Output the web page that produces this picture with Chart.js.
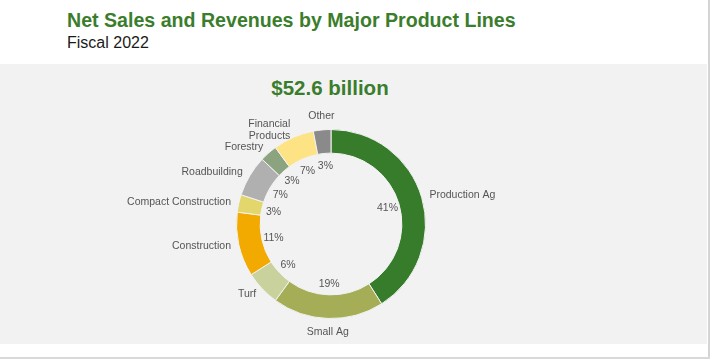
<!DOCTYPE html>
<html>
<head>
<meta charset="utf-8">
<script src="https://cdn.jsdelivr.net/npm/chart.js@4"></script>
<style>
    body { margin: 0; background: #fff; font-family: "Liberation Sans", Arial, sans-serif; }
    #wrap { position: relative; width: 710px; height: 359px; overflow: hidden; }
    #titulo { position: absolute; left: 67px; top: 10px; font-size: 19.6px; line-height: 20px; font-weight: bold; color: #3a7d2c; white-space: nowrap; }
    #subtitulo { position: absolute; left: 67px; top: 35px; font-size: 16px; line-height: 16px; color: #1a1a1a; white-space: nowrap; }
    #panel { position: absolute; left: 0; top: 64px; width: 707px; height: 280px; background: #f2f2f2; }
    #borde { position: absolute; left: 708px; top: 0; width: 2px; height: 359px; background: #d4d4d4; }
    #bordeInf { position: absolute; left: 0; top: 357px; width: 710px; height: 2px; background: #d9d9d9; }
    #total { position: absolute; left: 0; width: 660px; top: 77px; text-align: center; font-size: 20.5px; line-height: 21px; font-weight: bold; color: #3a7d2c; }
    #grafico { position: absolute; left: 0; top: 0; }
</style>
</head>
<body>
<div id="wrap">
    <div id="titulo">Net Sales and Revenues by Major Product Lines</div>
    <div id="subtitulo">Fiscal 2022</div>
    <div id="panel"></div>
    <div id="borde"></div>
    <div id="bordeInf"></div>
    <div id="total">$52.6 billion</div>
    <canvas id="grafico" width="710" height="359"></canvas>
</div>
<script>
const categorias = ['Production Ag', 'Small Ag', 'Turf', 'Construction', 'Compact Construction', 'Roadbuilding', 'Forestry', ['Financial', 'Products'], 'Other'];
const porcentajes = [41, 19, 6, 11, 3, 7, 3, 7, 3];
const colores = ['#367c2b', '#a5ad57', '#c9d19c', '#f2a900', '#e3d66c', '#b0b0b0', '#8ba37f', '#fde384', '#8a8a8a'];

const textoColor = '#555555';
const fuente = '10.5px "Liberation Sans", Arial, sans-serif';

// etiquetas dentro (porcentaje) y fuera (nombre) de cada arco
const etiquetasDona = {
    id: 'etiquetasDona',
    afterDatasetsDraw(chart) {
        const ctx = chart.ctx;
        const meta = chart.getDatasetMeta(0);
        ctx.save();
        ctx.font = fuente;
        ctx.fillStyle = textoColor;
        meta.data.forEach((arc, i) => {
            const { x, y, startAngle, endAngle, innerRadius, outerRadius } = arc.getProps(['x', 'y', 'startAngle', 'endAngle', 'innerRadius', 'outerRadius'], true);
            const medio = (startAngle + endAngle) / 2;
            const cos = Math.cos(medio);
            const sin = Math.sin(medio);

            // porcentaje
            const rIn = innerRadius - 12;
            ctx.textAlign = 'center';
            ctx.textBaseline = 'middle';
            ctx.fillText(porcentajes[i] + '%', x + cos * rIn, y + sin * rIn + 1);

            // nombre
            const rOut = outerRadius + 8;
            let px = x + cos * rOut;
            let py = y + sin * rOut;
            const lineas = Array.isArray(categorias[i]) ? categorias[i] : [categorias[i]];
            const alto = 12;
            if (cos > 0.3) ctx.textAlign = 'left';
            else if (cos < -0.3) ctx.textAlign = 'right';
            else ctx.textAlign = 'center';
            if (sin > 0.95) py += alto / 2;
            if (sin < -0.95) py -= alto / 2;
            const y0 = py - (lineas.length - 1) * alto / 2;
            lineas.forEach((l, k) => ctx.fillText(l, px, y0 + k * alto));
        });
        ctx.restore();
    }
};

const ctx = document.getElementById('grafico');
const grafico = new Chart(ctx, {
    type: 'doughnut',
    data: {
        labels: categorias,
        datasets: [{
            data: porcentajes,
            backgroundColor: colores,
            borderColor: '#f2f2f2',
            borderWidth: 1
        }]
    },
    options: {
        responsive: false,
        animation: false,
        cutout: '75%',
        layout: {
            padding: { left: 236, right: 284, top: 129, bottom: 40 }
        },
        plugins: {
            legend: { display: false },
            tooltip: { enabled: false }
        }
    },
    plugins: [etiquetasDona]
});
</script>
</body>
</html>
